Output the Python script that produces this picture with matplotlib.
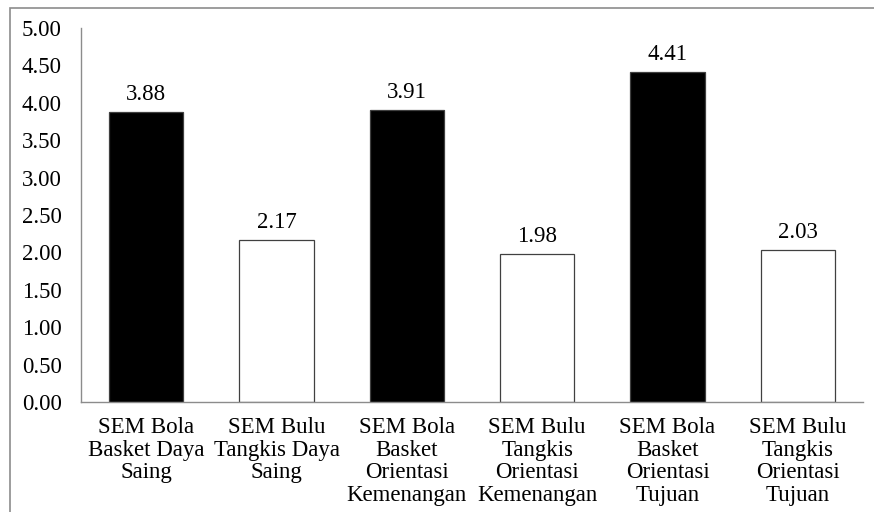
import matplotlib
matplotlib.use("Agg")
import matplotlib.pyplot as plt
from matplotlib.patches import Rectangle

categories = [
    "SEM Bola\nBasket Daya\nSaing",
    "SEM Bulu\nTangkis Daya\nSaing",
    "SEM Bola\nBasket\nOrientasi\nKemenangan",
    "SEM Bulu\nTangkis\nOrientasi\nKemenangan",
    "SEM Bola\nBasket\nOrientasi\nTujuan",
    "SEM Bulu\nTangkis\nOrientasi\nTujuan",
]
values = [3.88, 2.17, 3.91, 1.98, 4.41, 2.03]
fill_colors = ["black", "white", "black", "white", "black", "white"]
yticks = [0.0, 0.5, 1.0, 1.5, 2.0, 2.5, 3.0, 3.5, 4.0, 4.5, 5.0]

plt.rcParams["font.family"] = ["Liberation Serif", "DejaVu Serif"]
FS = 16.5

W, H = 874, 512
fig = plt.figure(figsize=(W / 100, H / 100), dpi=100)
ax = fig.add_axes([81 / W, 1 - 402 / H, (863 - 81) / W, (402 - 28) / H])

x = list(range(len(categories)))
bars = ax.bar(x, values, width=0.57, color=fill_colors,
              edgecolor="#404040", linewidth=0.9)

for xi, v in zip(x, values):
    ax.annotate(f"{v:.2f}", (xi, v), xytext=(0, 5), textcoords="offset points",
                ha="center", va="bottom", fontsize=FS)

ax.set_xlim(-0.5, len(categories) - 0.5)
ax.set_ylim(0, 5)
ax.set_yticks(yticks)
ax.set_yticklabels([f"{t:.2f}" for t in yticks], fontsize=FS)
ax.set_xticks(x)
ax.set_xticklabels(categories, fontsize=FS, linespacing=1.09)
ax.tick_params(axis="x", length=0, pad=11)
ax.tick_params(axis="y", length=0, pad=14)
for side in ("top", "right"):
    ax.spines[side].set_visible(False)
for side in ("left", "bottom"):
    ax.spines[side].set_color("#8c8c8c")
    ax.spines[side].set_linewidth(1.0)

# outer chart frame
fig.patches.append(Rectangle((10 / W, -0.05), 1.1, 1 - 8 / H + 0.05,
                             transform=fig.transFigure, fill=False,
                             edgecolor="#8c8c8c", linewidth=1.2))

fig.savefig("out.png", dpi=100)
